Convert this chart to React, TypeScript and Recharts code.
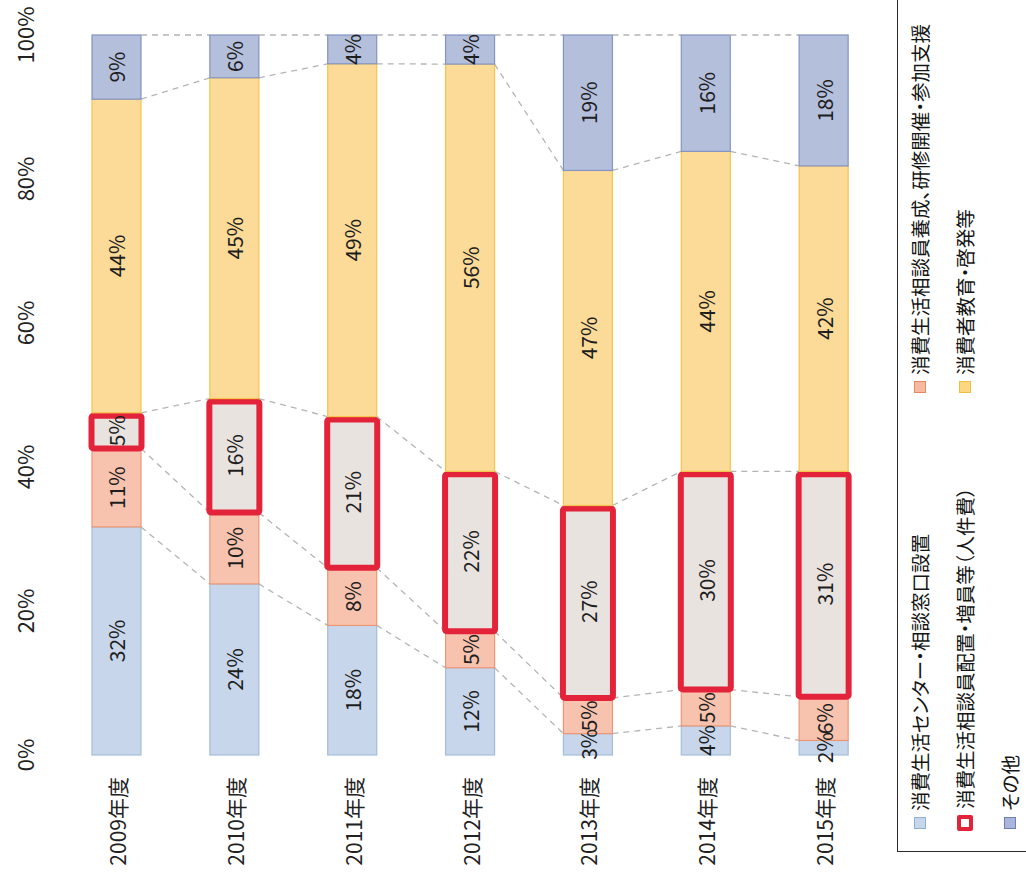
import React from "react";
import { BarChart, Bar, XAxis, YAxis, LabelList } from "recharts";

// values (percent of each year's budget)
const years = ["2009年度", "2010年度", "2011年度", "2012年度", "2013年度", "2014年度", "2015年度"];
const centerSetup = [32, 24, 18, 12, 3, 4, 2];
const trainingSupport = [11, 10, 8, 5, 5, 5, 6];
const staffing = [5, 16, 21, 22, 27, 30, 31];
const education = [44, 45, 49, 56, 47, 44, 42];
const others = [9, 6, 4, 4, 19, 16, 18];
const percentTicks = [0, 0.2, 0.4, 0.6, 0.8, 1];

const seriesNames = {
  centerSetup: "消費生活センター・相談窓口設置",
  trainingSupport: "消費生活相談員養成、研修開催・参加支援",
  staffing: "消費生活相談員配置・増員等（人件費）",
  education: "消費者教育・啓発等",
  others: "その他",
};

const FONT = "'Noto Sans CJK JP', 'Noto Sans', sans-serif";

const rows = years.map((year, i) => ({
  year,
  centerSetup: centerSetup[i],
  trainingSupport: trainingSupport[i],
  staffing: staffing[i],
  education: education[i],
  others: others[i],
}));

// remembers the top-right corner of the previous bar of each series,
// so every segment can draw the dashed "series line" back to it
const seriesLineReg: Record<string, { x: number; y: number }[]> = {};

function makeShape(key: string, fill: string, stroke: string, outline?: string) {
  return (props: any) => {
    const { x, y, width, height, index } = props;
    if (x == null || y == null) return <g />;
    const reg = (seriesLineReg[key] ||= []);
    const prev = index > 0 ? reg[index - 1] : undefined;
    reg[index] = { x: x + width, y };
    return (
      <g>
        {prev && (
          <line
            x1={prev.x}
            y1={prev.y}
            x2={x}
            y2={y}
            stroke="#b4b4b4"
            strokeWidth={1.3}
            strokeDasharray="6 5"
          />
        )}
        {outline ? (
          <rect
            x={x - 0.5}
            y={y + 3}
            width={width + 1}
            height={Math.max(height - 3, 0)}
            rx={2}
            fill={fill}
            stroke={outline}
            strokeWidth={6}
          />
        ) : (
          <rect x={x} y={y} width={width} height={height} fill={fill} stroke={stroke} strokeWidth={1.2} />
        )}
      </g>
    );
  };
}

const segLabel = (props: any) => {
  const vb = props.viewBox && props.viewBox.width != null ? props.viewBox : props;
  const { x, y, width, height } = vb;
  if (x == null) return null;
  const cx = x + width / 2;
  const cy = y + height / 2;
  return (
    <text
      x={cx}
      y={cy}
      transform={`rotate(-90 ${cx} ${cy})`}
      textAnchor="middle"
      dominantBaseline="central"
      fontSize={21}
      fill="#1e1e1e"
      style={{ fontFamily: FONT }}
    >
      {props.value}%
    </text>
  );
};

const PctTick = (props: any) => {
  const { y, payload } = props;
  const cx = 24;
  return (
    <text
      x={cx}
      y={y}
      transform={`rotate(-90 ${cx} ${y})`}
      textAnchor="middle"
      dominantBaseline="central"
      fontSize={22}
      fill="#222"
      style={{ fontFamily: FONT }}
    >
      {Math.round(payload.value * 100)}%
    </text>
  );
};

const YearTick = (props: any) => {
  const { x, y, payload } = props;
  return (
    <text
      x={x}
      y={y}
      transform={`rotate(-90 ${x} ${y})`}
      textAnchor="end"
      dominantBaseline="central"
      fontSize={21}
      fill="#222"
      style={{ fontFamily: FONT }}
    >
      {payload.value}
    </text>
  );
};

type LegendEntry = {
  name: string;
  cx: number;
  start: number;
  marker: React.CSSProperties;
};

const legendEntries: LegendEntry[] = [
  { name: seriesNames.centerSetup, cx: 920, start: 829, marker: { width: 10, height: 10, background: "#c7d6ea", border: "1px solid #8fb0d2" } },
  { name: seriesNames.trainingSupport, cx: 920, start: 393, marker: { width: 10, height: 10, background: "#f6b9a2", border: "1px solid #e68868" } },
  { name: seriesNames.staffing, cx: 965, start: 831, marker: { width: 8, height: 8, background: "#fff", border: "4px solid #e3233a", borderRadius: 2 } },
  { name: seriesNames.education, cx: 965, start: 393, marker: { width: 10, height: 10, background: "#fcd780", border: "1px solid #efbf3e" } },
  { name: seriesNames.others, cx: 1010, start: 829, marker: { width: 10, height: 10, background: "#a9b5d9", border: "1px solid #6f80b8" } },
];

function RotatedLegend() {
  return (
    <>
      <div
        style={{
          position: "absolute",
          left: 897,
          top: -4,
          width: 200,
          height: 856,
          border: "1.5px solid #2a2a2a",
          boxSizing: "border-box",
        }}
      />
      {legendEntries.map((e) => (
        <div
          key={e.name}
          style={{
            position: "absolute",
            left: e.cx - 12,
            top: e.start,
            height: 24,
            transform: "rotate(-90deg)",
            transformOrigin: "0 0",
            display: "flex",
            alignItems: "center",
            gap: 6,
            whiteSpace: "nowrap",
            fontSize: 19.5,
            lineHeight: "24px",
            color: "#151515",
            fontFamily: FONT,
            fontFeatureSettings: '"palt"',
          }}
        >
          <span style={{ display: "inline-block", flex: "none", ...e.marker }} />
          <span>{e.name}</span>
        </div>
      ))}
    </>
  );
}

export default function App() {
  return (
    <div
      style={{
        position: "absolute",
        left: 0,
        top: 0,
        width: 1026,
        height: 881,
        background: "#fff",
        overflow: "hidden",
        fontFamily: FONT,
      }}
    >
      <BarChart
        width={890}
        height={881}
        data={rows}
        stackOffset="expand"
        barSize={49}
        margin={{ top: 35, right: 7, bottom: 0, left: 0 }}
      >
        <XAxis
          dataKey="year"
          axisLine={false}
          tickLine={false}
          tickSize={0}
          tickMargin={22}
          height={126}
          interval={0}
          tick={(p: any) => <YearTick {...p} />}
        />
        <YAxis
          ticks={percentTicks}
          domain={[0, 1]}
          axisLine={false}
          tickLine={false}
          width={58}
          tick={(p: any) => <PctTick {...p} />}
        />
        <Bar dataKey="centerSetup" name={seriesNames.centerSetup} stackId="a" isAnimationActive={false}
          shape={makeShape("centerSetup", "#c7d6ea", "#a3bcdb")}>
          <LabelList dataKey="centerSetup" content={segLabel} />
        </Bar>
        <Bar dataKey="trainingSupport" name={seriesNames.trainingSupport} stackId="a" isAnimationActive={false}
          shape={makeShape("trainingSupport", "#f8c3ae", "#ee9674")}>
          <LabelList dataKey="trainingSupport" content={segLabel} />
        </Bar>
        <Bar dataKey="staffing" name={seriesNames.staffing} stackId="a" isAnimationActive={false}
          shape={makeShape("staffing", "#e9e3e0", "#e3233a", "#e3233a")}>
          <LabelList dataKey="staffing" content={segLabel} />
        </Bar>
        <Bar dataKey="education" name={seriesNames.education} stackId="a" isAnimationActive={false}
          shape={makeShape("education", "#fcda98", "#f5c44a")}>
          <LabelList dataKey="education" content={segLabel} />
        </Bar>
        <Bar dataKey="others" name={seriesNames.others} stackId="a" isAnimationActive={false}
          shape={makeShape("others", "#b4bfdc", "#8393c4")}>
          <LabelList dataKey="others" content={segLabel} />
        </Bar>
      </BarChart>
      <RotatedLegend />
    </div>
  );
}
